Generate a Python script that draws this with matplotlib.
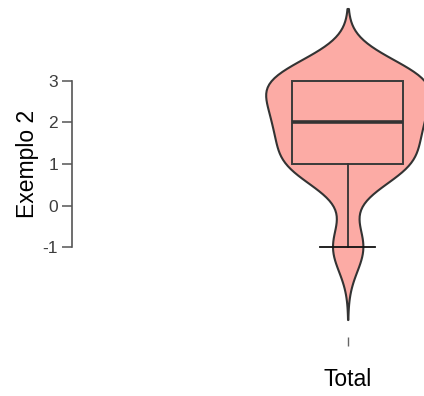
import numpy as np
import matplotlib
matplotlib.use("Agg")
import matplotlib.pyplot as plt
import seaborn as sns

# response values and how often each occurs
values = [-1, 1, 2, 3]
counts = [3, 10, 10, 13]
ylabel = "Exemplo 2"
xlabel = "Total"
yticks = [-1, 0, 1, 2, 3]

data = np.repeat(values, counts).astype(float)

plt.rcParams['font.family'] = ['Liberation Sans', 'DejaVu Sans']

fig = plt.figure(figsize=(4.24, 3.96), dpi=100)
ax = fig.add_axes([72 / 424, 59 / 396, 352 / 424, 331 / 396])

bw = 0.58 / np.std(data, ddof=1)
sns.violinplot(y=data, ax=ax, inner=None, cut=3, bw_method=bw, width=1.64,
               color='#FCABA5', saturation=1, linecolor='#333333', linewidth=1.5)

bp = ax.boxplot(data, positions=[0], widths=1.11, whis=1.5, showfliers=False,
                patch_artist=True, zorder=3,
                boxprops=dict(facecolor='none', edgecolor='#3a3a3a', linewidth=1.4),
                medianprops=dict(color='#333333', linewidth=2.6),
                whiskerprops=dict(color='#333333', linewidth=1.3),
                capprops=dict(color='#111111', linewidth=1.3))
bp['caps'][1].set_visible(False)

ax.set_xlim(-2.757, 0.763)
ax.set_ylim(-3.16, 4.8)
ax.set_xticks([0])
ax.set_xticklabels([''])
ax.set_yticks(yticks)
ax.set_yticklabels([str(t) for t in yticks])

for s in ['top', 'right', 'bottom']:
    ax.spines[s].set_visible(False)
ax.spines['left'].set_bounds(-1, 3)
ax.spines['left'].set_color('#555555')
ax.spines['left'].set_linewidth(1.2)
ax.tick_params(axis='y', length=7.5, width=1.1, color='#555555', pad=2.5,
               labelsize=12.5, labelcolor='#3d3d3d')
ax.tick_params(axis='x', length=6.5, width=1.0, color='#666666')

ax.set_ylabel(ylabel, fontsize=16.5)
ax.yaxis.set_label_coords(-0.095, 0.5226)
ax.set_xlabel(xlabel, fontsize=16.5)
ax.xaxis.set_label_coords(0.783, -0.095)

fig.savefig("out.png")
